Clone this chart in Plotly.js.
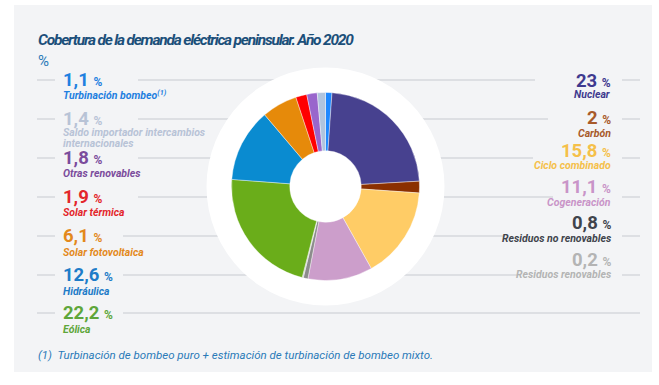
<!DOCTYPE html>
<html>
<head>
<meta charset="utf-8">
<script src="https://cdn.plot.ly/plotly-3.0.1.min.js"></script>
<style>
html,body{margin:0;padding:0;background:#ffffff;}
#chart{width:659px;height:385px;}
g.annotation[data-index="0"] text{letter-spacing:-1.2px;}
</style>
</head>
<body>
<div id="chart"></div>
<script>
// ---- data (pie order: clockwise from 12 o'clock) ----
const categories = ["Turbinación bombeo", "Nuclear", "Carbón", "Ciclo combinado", "Cogeneración",
  "Residuos no renovables", "Residuos renovables", "Eólica", "Hidráulica", "Solar fotovoltaica",
  "Solar térmica", "Otras renovables", "Saldo importador intercambios internacionales"];
const values = [1.1, 23, 2, 15.8, 11.1, 0.8, 0.2, 22.2, 12.6, 6.1, 1.9, 1.8, 1.4];
const leftLabels = ["Turbinación bombeo", "Saldo importador intercambios internacionales", "Otras renovables",
  "Solar térmica", "Solar fotovoltaica", "Hidráulica", "Eólica"];
const rightLabels = ["Nuclear", "Carbón", "Ciclo combinado", "Cogeneración", "Residuos no renovables", "Residuos renovables"];
const titleText = "Cobertura de la demanda eléctrica peninsular. Año 2020";
const unitText = "%";
const footnoteText = "(1)  Turbinación de bombeo puro + estimación de turbinación de bombeo mixto.";

// ---- styles ----
const sliceColors = {
  "Turbinación bombeo": "#1e88ff", "Nuclear": "#47418f", "Carbón": "#8b3000", "Ciclo combinado": "#ffcc66",
  "Cogeneración": "#cc9ecb", "Residuos no renovables": "#8c8c8c", "Residuos renovables": "#c8c8c8",
  "Eólica": "#6aad1a", "Hidráulica": "#0a8bd0", "Solar fotovoltaica": "#e68a0a", "Solar térmica": "#ff0000",
  "Otras renovables": "#9966cc", "Saldo importador intercambios internacionales": "#b0c4de"
};
const textColors = {
  "Turbinación bombeo": "#1f80e0", "Nuclear": "#3f3a8f", "Carbón": "#a85a2a", "Ciclo combinado": "#f5c04a",
  "Cogeneración": "#c994c8", "Residuos no renovables": "#3f444c", "Residuos renovables": "#b4b4b4",
  "Eólica": "#5ea63a", "Hidráulica": "#1e7cc8", "Solar fotovoltaica": "#e3891c", "Solar térmica": "#e3262b",
  "Otras renovables": "#7b4c9c", "Saldo importador intercambios internacionales": "#b8c3d6"
};
const displayLines = {
  "Turbinación bombeo": ["Turbinación bombeo<sup>(1)</sup>"],
  "Saldo importador intercambios internacionales": ["Saldo importador intercambios", "internacionales"]
};

const W = 659, H = 385;
const px = x => x / W;
const py = y => 1 - y / H;
const FONT = 'Roboto, "Liberation Sans", sans-serif';

const cx = 325.5, cy = 186.5, R = 94, discR = 119;

function fmt(v) { return String(v).replace('.', ','); }
function valueOf(name) { return values[categories.indexOf(name)]; }

const shapes = [];
// panel
shapes.push({type: 'rect', xref: 'paper', yref: 'paper', x0: px(14), x1: px(652), y0: py(5), y1: py(372),
  fillcolor: '#f3f4f6', line: {width: 0}, layer: 'below'});
// guide lines
const rowY = [80, 119, 158, 197, 236, 275, 313];
const leftStart = [138, 138, 138, 138, 123, 123, 123];
const rightEnd = [535, 548, 533, 553, 505, 517, 640];
function hline(x0, x1, y) {
  shapes.push({type: 'line', xref: 'paper', yref: 'paper', x0: px(x0), x1: px(x1), y0: py(y), y1: py(y),
    line: {color: '#d6d8dc', width: 1.5}, layer: 'below'});
}
rowY.forEach((y, i) => {
  hline(37, 55, y);
  hline(leftStart[i], rightEnd[i], y);
  if (i < 6) hline(622, 640, y);
});
// white disc behind the donut
shapes.push({type: 'circle', xref: 'paper', yref: 'paper', x0: px(cx - discR), x1: px(cx + discR),
  y0: py(cy + discR), y1: py(cy - discR), fillcolor: '#ffffff', line: {width: 0}, layer: 'below'});

const annotations = [];
annotations.push({xref: 'paper', yref: 'paper', x: px(36), y: py(40), xanchor: 'left', yanchor: 'middle', align: 'left',
  showarrow: false, text: '<b><i>' + titleText + '</i></b>', font: {family: FONT, size: 15.5, color: '#1b4f7a'}});
annotations.push({xref: 'paper', yref: 'paper', x: px(36), y: py(61), xanchor: 'left', yanchor: 'middle',
  showarrow: false, text: unitText, font: {family: FONT, size: 15, color: '#2a7ab8'}});
annotations.push({xref: 'paper', yref: 'paper', x: px(36), y: py(355), xanchor: 'left', yanchor: 'middle',
  showarrow: false, text: '<i>' + footnoteText + '</i>', font: {family: FONT, size: 11.5, color: '#2a7ab8'}});

function valueText(v) {
  return '<b>' + fmt(v) + '</b> <b><span style="font-size:12px">%</span></b>';
}
const leftValY = [80, 119, 158, 197, 236, 275, 313];
const leftSubY = [95, 132, 174, 213, 252, 291, 329];
const subLineGap = 11;
leftLabels.forEach((name, i) => {
  const c = textColors[name];
  annotations.push({xref: 'paper', yref: 'paper', x: px(61), y: py(leftValY[i]), xanchor: 'left', yanchor: 'middle',
    showarrow: false, text: valueText(valueOf(name)), font: {family: FONT, size: 18.5, color: c}});
  const lines = displayLines[name] || [name];
  lines.forEach((ln, k) => {
    annotations.push({xref: 'paper', yref: 'paper', x: px(61), y: py(leftSubY[i] + k * subLineGap), xanchor: 'left',
      yanchor: 'middle', showarrow: false, text: '<b><i>' + ln + '</i></b>', font: {family: FONT, size: 10.5, color: c}});
  });
});
const rightValY = [81, 118, 151, 187, 223, 260];
const rightSubY = [95, 133, 166, 203, 238, 274];
rightLabels.forEach((name, i) => {
  const c = textColors[name];
  annotations.push({xref: 'paper', yref: 'paper', x: px(613), y: py(rightValY[i]), xanchor: 'right', yanchor: 'middle',
    showarrow: false, text: valueText(valueOf(name)), font: {family: FONT, size: 18.5, color: c}});
  annotations.push({xref: 'paper', yref: 'paper', x: px(613), y: py(rightSubY[i]), xanchor: 'right', yanchor: 'middle',
    showarrow: false, text: '<b><i>' + name + '</i></b>', font: {family: FONT, size: 10.5, color: c}});
});

const trace = {
  type: 'pie',
  labels: categories,
  values: values,
  sort: false,
  direction: 'clockwise',
  rotation: 0,
  hole: 0.38,
  textinfo: 'none',
  hoverinfo: 'label+value',
  marker: {colors: categories.map(c => sliceColors[c]), line: {color: '#ffffff', width: 0.4}},
  domain: {x: [px(cx - R), px(cx + R)], y: [py(cy + R), py(cy - R)]},
  showlegend: false
};

const layout = {
  width: W, height: H,
  margin: {l: 0, r: 0, t: 0, b: 0},
  paper_bgcolor: '#ffffff',
  showlegend: false,
  shapes: shapes,
  annotations: annotations
};

Plotly.newPlot('chart', [trace], layout, {displayModeBar: false, staticPlot: true});
</script>
</body>
</html>
